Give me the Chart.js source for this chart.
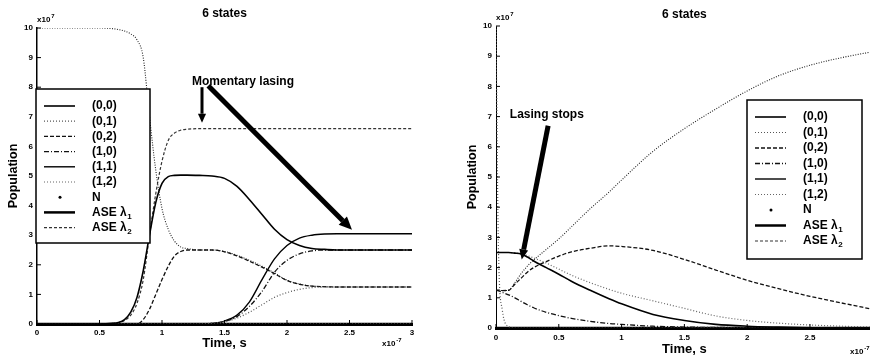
<!DOCTYPE html>
<html>
<head>
<meta charset="utf-8">
<script src="https://cdn.jsdelivr.net/npm/chart.js@4.4.1/dist/chart.umd.min.js"></script>
<style>
  html, body { margin: 0; padding: 0; background: #fff; overflow: hidden; width: 870px; height: 358px; }
  #left { position: absolute; left: 0; top: 0; width: 435px; height: 358px; }
  #right { position: absolute; left: 435px; top: 0; width: 445px; height: 358px; }
</style>
</head>
<body>
<div id="left"><canvas id="c1"></canvas></div>
<div id="right"><canvas id="c2"></canvas></div>
<script>
// legend entries, same for both panels
const legendLabels = ['(0,0)', '(0,1)', '(0,2)', '(1,0)', '(1,1)', '(1,2)', 'N', 'ASE λ1', 'ASE λ2']
const yTicks = [0, 1, 2, 3, 4, 5, 6, 7, 8, 9, 10]
const xTicks = [0, 0.5, 1, 1.5, 2, 2.5, 3]

// left panel (time x1e-7 s, population x1e7)
const timeL = [0, 0.5, 0.6, 0.65, 0.7, 0.75, 0.8, 0.85, 0.9, 0.95, 1.0, 1.05, 1.1, 1.15, 1.2, 1.3, 1.4, 1.5, 1.6, 1.7, 1.8, 1.9, 2.0, 2.1, 2.2, 2.3, 2.4, 2.6, 3.0]
const l00 = [0, 0, 0.02, 0.05, 0.15, 0.4, 0.9, 1.8, 3.0, 4.1, 4.75, 4.98, 5.02, 5.03, 5.03, 5.02, 5.0, 4.92, 4.65, 4.2, 3.7, 3.2, 2.85, 2.65, 2.55, 2.52, 2.5, 2.5, 2.5]
const l01 = [0, 0, 0, 0, 0, 0, 0, 0, 0, 0, 0, 0, 0, 0, 0, 0, 0.03, 0.08, 0.2, 0.4, 0.65, 0.9, 1.06, 1.17, 1.23, 1.25, 1.25, 1.25, 1.25]
const l02 = [0, 0, 0, 0, 0, 0, 0, 0.15, 0.5, 1.0, 1.5, 1.95, 2.3, 2.45, 2.5, 2.5, 2.5, 2.44, 2.3, 2.12, 1.92, 1.7, 1.47, 1.34, 1.28, 1.26, 1.25, 1.25, 1.25]
const l10 = [0, 0, 0, 0, 0, 0, 0, 0, 0, 0, 0, 0, 0, 0, 0, 0, 0.02, 0.08, 0.25, 0.6, 1.1, 1.75, 2.15, 2.37, 2.47, 2.5, 2.5, 2.5, 2.5]
const l11 = [0, 0, 0, 0, 0, 0, 0, 0, 0, 0, 0, 0, 0, 0, 0, 0, 0.02, 0.1, 0.3, 0.75, 1.5, 2.2, 2.65, 2.9, 3.0, 3.04, 3.05, 3.05, 3.05]
const l12 = [0, 0, 0, 0, 0, 0, 0, 0, 0, 0, 0, 0, 0, 0, 0, 0, 0, 0, 0, 0, 0, 0, 0, 0, 0, 0, 0, 0, 0]
const lN = [10, 10, 9.98, 9.95, 9.9, 9.8, 9.6, 9.0, 7.0, 5.2, 3.9, 3.2, 2.8, 2.6, 2.55, 2.5, 2.5, 2.45, 2.32, 2.15, 1.95, 1.72, 1.48, 1.35, 1.28, 1.26, 1.25, 1.25, 1.25]
const lAse1 = [0, 0, 0, 0, 0, 0, 0, 0, 0, 0, 0, 0, 0, 0, 0, 0, 0, 0, 0, 0, 0, 0, 0, 0, 0, 0, 0, 0, 0]
const lAse2 = [0, 0, 0.02, 0.05, 0.12, 0.3, 0.7, 1.5, 3.0, 4.4, 5.5, 6.2, 6.45, 6.55, 6.58, 6.6, 6.6, 6.6, 6.6, 6.6, 6.6, 6.6, 6.6, 6.6, 6.6, 6.6, 6.6, 6.6, 6.6]

// right panel
const timeR = [0, 0.02, 0.05, 0.1, 0.15, 0.2, 0.25, 0.3, 0.4, 0.5, 0.6, 0.75, 0.9, 1.0, 1.25, 1.5, 1.75, 2.0, 2.25, 2.5, 2.75, 3.0]
const r00 = [2.5, 2.5, 2.5, 2.5, 2.48, 2.45, 2.35, 2.22, 2.0, 1.78, 1.55, 1.25, 0.97, 0.8, 0.45, 0.25, 0.12, 0.06, 0.03, 0.01, 0, 0]
const r01 = [10, 2.5, 0.6, 0.05, 0, 0, 0, 0, 0, 0, 0, 0, 0, 0, 0, 0, 0, 0, 0, 0, 0, 0]
const r02 = [1.25, 1.25, 1.24, 1.25, 1.45, 1.65, 1.85, 2.0, 2.2, 2.38, 2.52, 2.64, 2.72, 2.7, 2.57, 2.27, 1.92, 1.58, 1.3, 1.05, 0.83, 0.62]
const r10 = [1.25, 1.23, 1.18, 1.1, 1.0, 0.88, 0.77, 0.67, 0.52, 0.41, 0.32, 0.22, 0.15, 0.12, 0.06, 0.03, 0.02, 0.01, 0, 0, 0, 0]
const r11 = [0, 0, 0, 0, 0, 0, 0, 0, 0, 0, 0, 0, 0, 0, 0, 0, 0, 0, 0, 0, 0, 0]
const r12 = [2.5, 2.5, 2.5, 2.5, 2.48, 2.46, 2.4, 2.32, 2.15, 1.95, 1.75, 1.5, 1.28, 1.15, 0.9, 0.65, 0.4, 0.25, 0.16, 0.1, 0.06, 0.03]
const rN = [1.25, 1.25, 1.24, 1.25, 1.5, 1.8, 2.05, 2.25, 2.6, 2.95, 3.35, 3.95, 4.5, 4.9, 5.85, 6.6, 7.25, 7.85, 8.35, 8.7, 8.95, 9.15]
const rAse1 = [0, 0, 0, 0, 0, 0, 0, 0, 0, 0, 0, 0, 0, 0, 0, 0, 0, 0, 0, 0, 0, 0]
const rAse2 = [0, 0, 0, 0, 0, 0, 0, 0, 0, 0, 0, 0, 0, 0, 0, 0, 0, 0, 0, 0, 0, 0]

// line look per legend entry (scanned b/w figure)
const styles = [
  { color: '#000', width: 1.6, dash: [] },
  { color: '#555', width: 1.2, dash: [1, 2] },
  { color: '#111', width: 1.3, dash: [4, 2] },
  { color: '#111', width: 1.3, dash: [5, 2, 1, 2] },
  { color: '#000', width: 1.4, dash: [] },
  { color: '#666', width: 1.2, dash: [1, 2] },
  { color: '#222', width: 1.1, dash: [1, 1.5] },
  { color: '#000', width: 2.5, dash: [] },
  { color: '#333', width: 1.2, dash: [3, 2] },
]

Chart.defaults.font.family = '"Liberation Sans", Arial, sans-serif'
Chart.defaults.color = '#000'

function makeSets(time, series) {
  return series.map((vals, i) => ({
    label: legendLabels[i],
    data: time.map((t, k) => ({ x: t, y: vals[k] })),
    borderColor: styles[i].color,
    borderWidth: styles[i].width,
    borderDash: styles[i].dash,
    pointRadius: 0,
    cubicInterpolationMode: 'monotone',
    fill: false
  }))
}

function drawArrow(ctx, x1, y1, x2, y2, w, head) {
  const ang = Math.atan2(y2 - y1, x2 - x1)
  const bx = x2 - Math.cos(ang) * head, by = y2 - Math.sin(ang) * head
  ctx.lineWidth = w
  ctx.beginPath(); ctx.moveTo(x1, y1); ctx.lineTo(bx, by); ctx.stroke()
  const hw = head * 0.45
  ctx.beginPath()
  ctx.moveTo(x2, y2)
  ctx.lineTo(bx + Math.sin(ang) * hw, by - Math.cos(ang) * hw)
  ctx.lineTo(bx - Math.sin(ang) * hw, by + Math.cos(ang) * hw)
  ctx.closePath(); ctx.fill()
}

function labelWithSub(ctx, text, x, y) {
  const m = text.match(/^(.*λ)(\d)$/)
  ctx.font = 'bold 12px "Liberation Sans", Arial, sans-serif'
  if (!m) { ctx.fillText(text, x, y); return }
  ctx.fillText(m[1], x, y)
  const w = ctx.measureText(m[1]).width
  ctx.font = 'bold 8px "Liberation Sans", Arial, sans-serif'
  ctx.fillText(m[2], x + w + 0.5, y + 4)
}

const figPlugin = {
  id: 'fig',
  afterDraw(chart, args, opts) {
    const { ctx, chartArea: a, scales: { x, y } } = chart
    ctx.save()
    ctx.strokeStyle = '#000'; ctx.fillStyle = '#000'; ctx.setLineDash([])
    // inward ticks
    ctx.lineWidth = 1
    yTicks.forEach(v => {
      const py = y.getPixelForValue(v)
      ctx.beginPath(); ctx.moveTo(a.left, py); ctx.lineTo(a.left + 4, py); ctx.stroke()
    })
    xTicks.forEach(v => {
      const px = x.getPixelForValue(v)
      ctx.beginPath(); ctx.moveTo(px, a.bottom); ctx.lineTo(px, a.bottom - 4); ctx.stroke()
    })
    // exponent labels
    ctx.textBaseline = 'middle'; ctx.textAlign = 'left'
    ctx.font = 'bold 8px "Liberation Sans", Arial, sans-serif'
    ctx.fillText('x10', a.left, a.top - 8)
    let w = ctx.measureText('x10').width
    ctx.font = 'bold 6px "Liberation Sans", Arial, sans-serif'
    ctx.fillText('7', a.left + w + 1, a.top - 12)
    ctx.font = 'bold 8px "Liberation Sans", Arial, sans-serif'
    ctx.fillText('x10', opts.expX, opts.expY)
    w = ctx.measureText('x10').width
    ctx.font = 'bold 6px "Liberation Sans", Arial, sans-serif'
    ctx.fillText('-7', opts.expX + w + 1, opts.expY - 4)
    // annotations
    opts.notes.forEach(n => {
      ctx.font = 'bold 12px "Liberation Sans", Arial, sans-serif'
      ctx.fillText(n.text, x.getPixelForValue(n.x), y.getPixelForValue(n.y))
    })
    opts.arrows.forEach(r => {
      drawArrow(ctx, x.getPixelForValue(r.from[0]), y.getPixelForValue(r.from[1]),
        x.getPixelForValue(r.to[0]), y.getPixelForValue(r.to[1]), r.w, r.head)
    })
    // legend box
    const L = opts.legend
    ctx.fillStyle = '#fff'
    ctx.fillRect(L.left, L.top, L.width, L.height)
    ctx.lineWidth = 1.5; ctx.strokeStyle = '#000'
    ctx.strokeRect(L.left, L.top, L.width, L.height)
    chart.data.datasets.forEach((ds, i) => {
      const ry = L.top + L.first + i * L.step
      ctx.strokeStyle = ds.borderColor; ctx.lineWidth = ds.borderWidth
      if (ds.label === 'N') {
        ctx.fillStyle = '#000'
        ctx.beginPath(); ctx.arc(L.left + 24, ry, 1.5, 0, Math.PI * 2); ctx.fill()
      } else {
        ctx.setLineDash(ds.borderDash)
        ctx.beginPath(); ctx.moveTo(L.left + 8, ry); ctx.lineTo(L.left + 39, ry); ctx.stroke()
        ctx.setLineDash([])
      }
      ctx.fillStyle = '#000'
      labelWithSub(ctx, ds.label, L.left + 56, ry)
    })
    ctx.restore()
  }
}

function makeChart(id, time, series, cfg) {
  return new Chart(document.getElementById(id), {
    type: 'line',
    data: { datasets: makeSets(time, series) },
    plugins: [figPlugin],
    options: {
      responsive: true,
      maintainAspectRatio: false,
      animation: false,
      devicePixelRatio: 1,
      layout: { padding: { left: 0, right: cfg.padRight, top: 0, bottom: 0 } },
      scales: {
        x: {
          type: 'linear', min: 0, max: 3,
          afterBuildTicks: s => { s.ticks = xTicks.map(v => ({ value: v })) },
          grid: { display: false, drawTicks: false },
          border: { display: true, color: '#000', width: 3 },
          ticks: { padding: cfg.xTickPad, font: { size: 8, weight: 'bold' }, color: '#000', maxRotation: 0, callback: v => String(v) },
          title: { display: true, text: 'Time, s', font: { size: 13, weight: 'bold' }, color: '#000', padding: { top: 0, bottom: cfg.xTitlePad } },
          afterFit: s => { s.height = cfg.xHeight }
        },
        y: {
          type: 'linear', min: 0, max: 10,
          afterBuildTicks: s => { s.ticks = yTicks.map(v => ({ value: v })) },
          grid: { display: false, drawTicks: false },
          border: { display: true, color: '#000', width: cfg.yBorder },
          ticks: { padding: 4, font: { size: 8, weight: 'bold' }, color: '#000', callback: v => String(v) },
          title: { display: true, text: 'Population', font: { size: 12.5, weight: 'bold' }, color: '#000', padding: { top: cfg.yTitlePad, bottom: 0 } },
          afterFit: s => { s.width = cfg.yWidth }
        }
      },
      plugins: {
        legend: { display: false },
        tooltip: { enabled: false },
        title: {
          display: true, text: '6 states', fullSize: false, color: '#000',
          font: { size: 12, weight: 'bold' }, padding: cfg.titlePad
        },
        fig: cfg.fig
      }
    }
  })
}

makeChart('c1', timeL, [l00, l01, l02, l10, l11, l12, lN, lAse1, lAse2], {
  padRight: 23, xHeight: 34, yWidth: 37, yBorder: 1.5, xTickPad: 4, xTitlePad: 7, yTitlePad: 6,
  titlePad: { top: 6.8, bottom: 6.8 },
  fig: {
    expX: 382, expY: 344,
    legend: { left: 36, top: 89, width: 114, height: 154, first: 17, step: 15.2 },
    notes: [{ text: 'Momentary lasing', x: 1.24, y: 8.2 }],
    arrows: [
      { from: [1.32, 8.0], to: [1.32, 6.8], w: 3, head: 9 },
      { from: [1.37, 8.05], to: [2.52, 3.18], w: 5, head: 13 }
    ]
  }
})

makeChart('c2', timeR, [r00, r01, r02, r10, r11, r12, rN, rAse1, rAse2], {
  padRight: 7, xHeight: 30, yWidth: 61, yBorder: 1, xTickPad: 5, xTitlePad: 0.5, yTitlePad: 30.5,
  titlePad: { top: 7.8, bottom: 3.8 },
  fig: {
    expX: 415, expY: 352,
    legend: { left: 312, top: 100, width: 115, height: 159, first: 17, step: 15.5 },
    notes: [{ text: 'Lasing stops', x: 0.11, y: 7.05 }],
    arrows: [
      { from: [0.415, 6.7], to: [0.205, 2.27], w: 5, head: 10 }
    ]
  }
})
</script>
</body>
</html>
